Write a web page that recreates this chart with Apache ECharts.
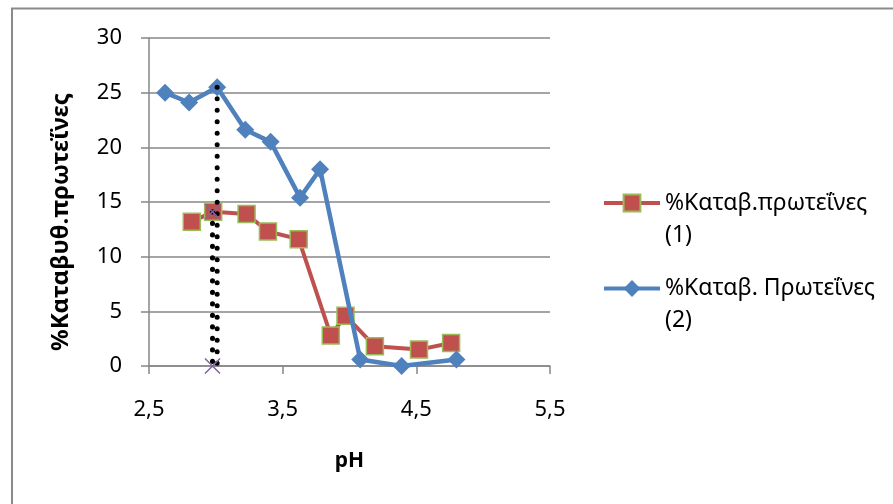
<!DOCTYPE html>
<html>
<head>
<meta charset="utf-8">
<script src="https://cdn.jsdelivr.net/npm/echarts@6/dist/echarts.min.js"></script>
<style>
  html, body { margin: 0; padding: 0; background: #ffffff; }
  #chart { width: 893px; height: 504px; }
</style>
</head>
<body>
<div id="chart"></div>
<script>
// Protein precipitation (%) against pH, two runs
const seriesNames = ['%Καταβ.πρωτεΐνες (1)', '%Καταβ. Πρωτεΐνες (2)'];
const phRun1 = [2.82, 2.98, 3.23, 3.39, 3.62, 3.86, 3.97, 4.19, 4.52, 4.76];
const pctRun1 = [13.2, 14.1, 13.9, 12.3, 11.6, 2.8, 4.6, 1.8, 1.5, 2.1];
const phRun2 = [2.62, 2.8, 3.01, 3.22, 3.41, 3.63, 3.78, 4.08, 4.39, 4.8];
const pctRun2 = [25.0, 24.1, 25.5, 21.6, 20.5, 15.4, 18.0, 0.6, 0.0, 0.6];
// vertical drop lines marking the optimum pH of each run
const dropPh = [3.01, 2.975];
const dropTop = [25.5, 14.1];
const xTicks = [2.5, 3.5, 4.5, 5.5];
const yTicks = [0, 5, 10, 15, 20, 25, 30];
const xTitle = 'pH';
const yTitle = '%Καταβυθ.πρωτεΐνες';

const FONT = 'Noto Sans';
const GRID = '#878787';

const pairs = (xs, ys) => xs.map((x, i) => [x, ys[i]]);
const dropLine = i => [[dropPh[i], dropTop[i]], [dropPh[i], 0]];

// legend label: name on the icon row, run number underneath
// (an empty leading row keeps the first text row level with the icon)
const legendFormatter = n => {
  const k = n.lastIndexOf(' (');
  return '{e| }\n{t|' + n.slice(0, k) + '}\n{t|' + n.slice(k + 1) + '}';
};
const legendText = {
  fontFamily: FONT, fontSize: 23, color: '#000',
  rich: {
    e: { fontFamily: FONT, fontSize: 23, lineHeight: 32 },
    t: { fontFamily: FONT, fontSize: 23, lineHeight: 32, color: '#000' }
  }
};

const chart = echarts.init(document.getElementById('chart'), null, { renderer: 'canvas' });
chart.setOption({
  animation: false,
  backgroundColor: '#ffffff',
  graphic: [{
    type: 'rect', silent: true,
    shape: { x: 12, y: 8.5, width: 900, height: 520 },
    style: { fill: 'none', stroke: '#8a8a8a', lineWidth: 2 }
  }],
  grid: { left: 149, right: 343, top: 38, bottom: 138 },
  legend: [0, 1].map(i => ({
    data: [seriesNames[i]],
    left: 602, top: i === 0 ? 159.5 : 245,
    padding: 0,
    itemWidth: 56, itemHeight: 21,
    lineStyle: { width: 4 },
    formatter: legendFormatter,
    textStyle: legendText
  })),
  xAxis: {
    type: 'value', min: xTicks[0], max: xTicks[xTicks.length - 1],
    name: xTitle, nameLocation: 'middle', nameGap: 85,
    nameTextStyle: { fontFamily: FONT, fontSize: 21, fontWeight: 'bold', color: '#000' },
    axisLine: { show: true, onZero: false, lineStyle: { color: GRID, width: 1.5 } },
    axisTick: { show: true, inside: false, length: 8, customValues: xTicks, lineStyle: { color: GRID, width: 1.5 } },
    axisLabel: {
      customValues: xTicks, margin: 33,
      fontFamily: FONT, fontSize: 22, color: '#000',
      formatter: v => v.toFixed(1).replace('.', ',')
    },
    splitLine: { show: false }
  },
  yAxis: {
    type: 'value', min: yTicks[0], max: yTicks[yTicks.length - 1], interval: yTicks[1] - yTicks[0],
    name: yTitle, nameLocation: 'middle', nameGap: 76, nameRotate: 90,
    nameTextStyle: { fontFamily: FONT, fontSize: 24, fontWeight: 'bold', color: '#000', padding: [0, 40, 0, 0] },
    axisLine: { show: true, lineStyle: { color: GRID, width: 1.5 } },
    axisTick: { show: true, inside: false, length: 8, lineStyle: { color: GRID, width: 1.5 } },
    axisLabel: { margin: 27, fontFamily: FONT, fontSize: 22, color: '#000' },
    splitLine: { show: true, lineStyle: { color: GRID, width: 1.5 } }
  },
  series: [
    {
      name: seriesNames[0], type: 'line', data: pairs(phRun1, pctRun1),
      symbol: 'rect', symbolSize: 17,
      itemStyle: { color: '#C0504D', borderColor: '#9BBB59', borderWidth: 1.5 },
      lineStyle: { color: '#C0504D', width: 4 },
      z: 2
    },
    {
      name: seriesNames[1], type: 'line', data: pairs(phRun2, pctRun2),
      symbol: 'diamond', symbolSize: 18,
      itemStyle: { color: '#4F81BD', borderColor: '#4F81BD', borderWidth: 0 },
      lineStyle: { color: '#4F81BD', width: 4.5 },
      z: 3
    },
    {
      name: 'drop-a', type: 'line', data: dropLine(0),
      showSymbol: false, symbol: 'none',
      lineStyle: { color: '#000', width: 5, type: [0.1, 11.4], cap: 'round' },
      z: 4
    },
    {
      name: 'drop-b', type: 'line', data: dropLine(1),
      symbol: 'path://M0,0 L10,10 M10,0 L0,10', symbolSize: 15,
      itemStyle: { color: 'rgba(0,0,0,0)', borderColor: '#8064A2', borderWidth: 1.5 },
      lineStyle: { color: '#000', width: 5, type: [0.1, 11.4], cap: 'round' },
      z: 5
    }
  ]
});
</script>
</body>
</html>
